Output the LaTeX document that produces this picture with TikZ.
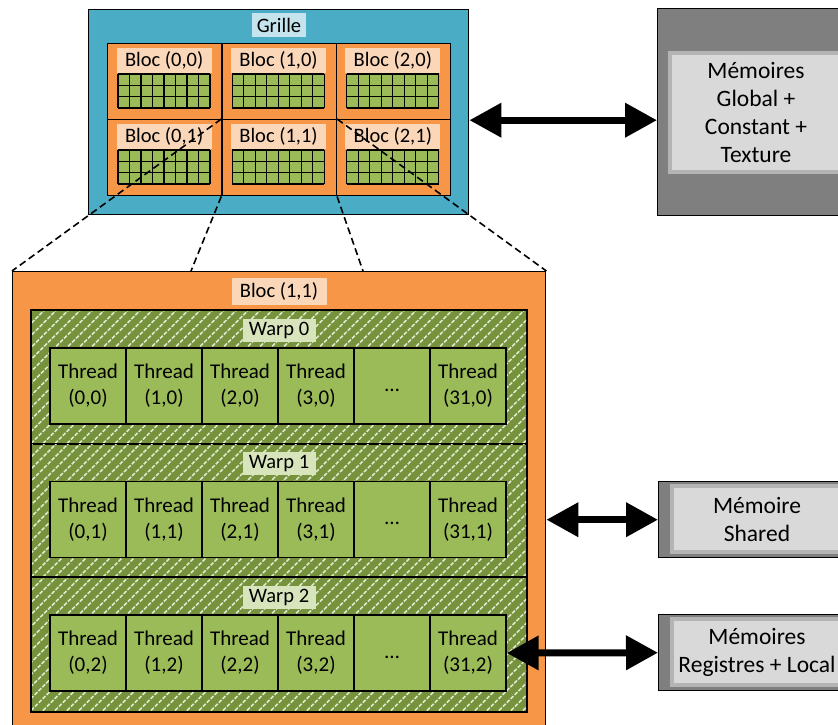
\documentclass[tikz,border=0pt]{standalone}
\usepackage{fontspec}
\setmainfont{Carlito}
\usetikzlibrary{arrows.meta,positioning}
\definecolor{grillefill}{HTML}{4BACC6}
\definecolor{grillelab}{HTML}{C5E4EE}
\definecolor{blocfill}{HTML}{F79646}
\definecolor{bloclab}{HTML}{FBD7BA}
\definecolor{thrfill}{HTML}{9BBB59}
\definecolor{warpfill}{HTML}{76923C}
\definecolor{warplab}{HTML}{D8E4BC}
\definecolor{hatchcol}{HTML}{DDE8C8}
\definecolor{memdark}{HTML}{7F7F7F}
\definecolor{memlight}{HTML}{D9D9D9}
\definecolor{memmid}{HTML}{B4B4B4}

\begin{document}
\begin{tikzpicture}[x=1pt, y=-1pt,
  box/.style={draw, line width=1.4pt, inner sep=0pt, anchor=north west},
  lab/.style={inner sep=0pt, font=\fontsize{20.5}{24}\selectfont},
  thread/.style={draw, line width=1.4pt, fill=thrfill, minimum size=76pt, inner sep=0pt, align=center, font=\fontsize{21}{26}\selectfont},
  memtext/.style={fill=memlight, draw=memmid, line width=4pt, inner sep=0pt, align=center, font=\fontsize{23.5}{28}\selectfont},
  dbl/.style={{Triangle[length=32pt,width=33pt]}-{Triangle[length=32pt,width=33pt]}, line width=7pt},
  zoomline/.style={dash pattern=on 7pt off 4pt, line width=1.6pt}]
\useasboundingbox (0,0) rectangle (838,724);
\clip (0,0) rectangle (838,724);

\node[box, fill=grillefill, minimum width=380pt, minimum height=205pt] (grille) at (88,9) {};
\node[lab, fill=grillelab, minimum width=54pt, minimum height=24pt] (lgrille) at (279,25) {Grille};
\foreach \i in {0,1,2} {
  \foreach \j in {0,1} {
    \pgfmathsetmacro{\bx}{107+114.33*\i}
    \pgfmathsetmacro{\by}{43+76*\j}
    \node[box, fill=blocfill, minimum width=114.33pt, minimum height=76pt] (b-\i-\j) at (\bx,\by) {};
    \node[lab, fill=bloclab, minimum width=95pt, minimum height=25pt] (lb-\i-\j) at (\bx+57.17,\by+17) {Bloc (\i,\j)};
    \fill[thrfill] (\bx+11,\by+31) rectangle ++(92,34);
    \foreach \k in {0,...,8} \draw[line width=1.3pt] (\bx+11+11.5*\k,\by+31) -- ++(0,34);
    \foreach \k in {0,...,3} \draw[line width=1.3pt] (\bx+11,\by+31+11.333*\k) -- ++(92,0);
  }
}

\node[box, fill=memdark, minimum width=200pt, minimum height=207pt] (memglob) at (657,8) {};
\node[memtext, minimum width=172pt, minimum height=119pt] (tglob) at (756,112.5) {Mémoires\\Global +\\Constant +\\Texture};
\node[box, fill=memdark, minimum width=200pt, minimum height=76pt] (shared) at (658,481) {};
\node[memtext, minimum width=170pt, minimum height=66pt] (tshared) at (757,519) {Mémoire\\Shared};
\node[box, fill=memdark, minimum width=200pt, minimum height=76pt] (regs) at (658,614) {};
\node[memtext, minimum width=170pt, minimum height=66pt] (tregs) at (757,652) {Mémoires\\Registres + Local};

\node[box, fill=blocfill, minimum width=533pt, minimum height=480pt] (bigbloc) at (12,271) {};
\node[lab, fill=bloclab, minimum width=95pt, minimum height=27pt] (lbig) at (279,291) {Bloc (1,1)};
\foreach \w in {0,1,2} {
  \pgfmathsetmacro{\wy}{310+133.5*\w}
  \node[box, fill=warpfill, minimum width=495pt, minimum height=133.5pt] (w-\w) at (31,\wy) {};
  \begin{scope}
    \clip (31,\wy) rectangle ++(495,133.5);
    \foreach \h in {-132,-120,...,500} \draw[hatchcol, line width=1.5pt, dash pattern=on 4pt off 1.5pt] (31+\h,\wy+133.5) -- ++(134,-134);
  \end{scope}
  \draw[line width=1.4pt] (w-\w.north west) rectangle (w-\w.south east);
  \node[lab, fill=warplab, minimum width=73pt, minimum height=23pt] (lw-\w) at (279,\wy+20) {Warp \w};
  \foreach \k/\n in {0/0,1/1,2/2,3/3,5/31}
    \node[thread] (t-\k-\w) at (88+76*\k,\wy+76) {Thread\\(\n,\w)};
  \node[thread] (t-4-\w) at (392,\wy+76) {\strut\dots};
}

\coordinate (zl) at (191,271);
\coordinate (zr) at (363,271);
\draw[zoomline] (b-1-1.north west) -- (bigbloc.north west);
\draw[zoomline] (b-1-1.north east) -- (bigbloc.north east);
\draw[zoomline] (b-1-1.south west) -- (zl);
\draw[zoomline] (b-1-1.south east) -- (zr);

\draw[dbl] ([yshift=-8pt]grille.east) -- ([yshift=-8pt]memglob.west);
\draw[dbl] (bigbloc.east |- shared.west) -- (shared.west);
\draw[dbl] (t-5-2.east) -- (regs.west);
\end{tikzpicture}
\end{document}
